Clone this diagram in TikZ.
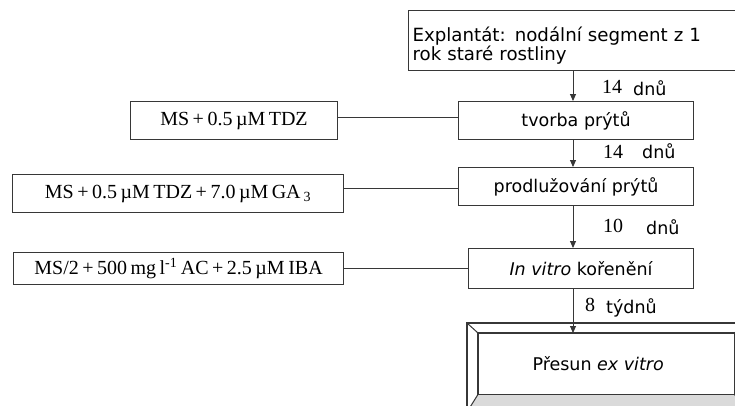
\documentclass[tikz,border=0pt]{standalone}
\usepackage{fontspec}
\setmainfont[WordSpace=0.7]{Liberation Serif}
\newfontfamily\dv{DejaVu Sans}
\usetikzlibrary{arrows.meta}
\definecolor{lc}{RGB}{55,55,55}
\definecolor{bev}{RGB}{218,218,218}
\begin{document}
\begin{tikzpicture}[x=1pt,y=-1pt,
  box/.style={draw=lc, line width=1.1pt, inner xsep=4pt, inner ysep=0pt, anchor=north west},
  sans/.style={font=\dv\fontsize{17.5}{19}\selectfont},
  sansbig/.style={font=\dv\fontsize{18.2}{19}\selectfont},
  serif/.style={font=\fontsize{20}{22}\selectfont},
  conn/.style={draw=lc, line width=0.9pt},
  arr/.style={conn, -{Triangle[length=7pt,width=6pt]}},
  lab/.style={anchor=base west, inner sep=0pt}]
\useasboundingbox (0,0) rectangle (735,405);
\clip (0,0) rectangle (735,405);
\fill[white] (0,0) rectangle (735,405);
\coordinate (ax) at (573,0);
\coordinate (l1) at (0,117);
\coordinate (l2) at (0,188);
\coordinate (l3) at (0,268);
% right column
\node[box, sansbig, minimum width=337pt, minimum height=60pt, text width=329pt, align=left] (expl) at (408,10) {\rule{0pt}{24pt}Explantát: nodální segment z 1\\rok staré rostliny};
\node[box, sans, minimum width=235pt, minimum height=38pt] (tvorba) at (458,101) {tvorba prýtů};
\node[box, sans, minimum width=235pt, minimum height=38pt] (prod) at (458,167) {prodlužování prýtů};
\node[box, sans, minimum width=225pt, minimum height=40pt] (inv) at (468,248) {\textit{In vitro} kořenění};
% bevel box
\coordinate (o1) at (467,323);
\coordinate (o2) at (747,412);
\node[anchor=north west, inner sep=0pt, minimum width=256pt, minimum height=61pt] (pres) at (478,333) {};
\fill[bev] (o1 |- o2) -- (pres.south west) -- (pres.south east) -- (o2) -- cycle;
\draw[lc, line width=1.1pt] (o1) rectangle (o2);
\draw[lc, line width=1.1pt] (pres.north west) rectangle (pres.south east);
\draw[lc, line width=1pt] (o1) -- (pres.north west)
  (o1 |- o2) -- (pres.south west)
  (o1 -| o2) -- (pres.north east) (o2) -- (pres.south east);
\node[sans, inner sep=0pt] (prestext) at ([xshift=-8pt]pres.center) {Přesun \textit{ex vitro}};
% left column
\node[box, serif, minimum width=207pt, minimum height=38pt] (ms1) at (130,101) {MS + 0.5 µM TDZ};
\node[box, serif, minimum width=331pt, minimum height=38pt] (ga) at (12,174) {MS + 0.5 µM TDZ + 7.0 µM GA\hspace{3pt}\textsubscript{3}};
\node[box, serif, minimum width=330pt, minimum height=32pt] (ms2) at (13,252) {MS/2 + 500 mg l\textsuperscript{-1} AC + 2.5 µM IBA};
% connectors
\draw[arr] (expl.south -| ax) -- (tvorba.north -| ax);
\draw[arr] (tvorba.south -| ax) -- (prod.north -| ax);
\draw[arr] (prod.south -| ax) -- (inv.north -| ax);
\draw[arr] (inv.south -| ax) -- (pres.north -| ax);
\draw[conn] (ms1.east |- l1) -- (tvorba.west |- l1);
\draw[conn] (ga.east |- l2) -- (prod.west |- l2);
\draw[conn] (ms2.east |- l3) -- (inv.west |- l3);
% labels
\node[lab, serif] (d1n) at (602,93) {14};
\node[lab, sans] (d1u) at (633,95) {dnů};
\node[lab, serif] (d2n) at (603,158) {14};
\node[lab, sans] (d2u) at (642,158) {dnů};
\node[lab, serif] (d3n) at (603,232) {10};
\node[lab, sans] (d3u) at (646,234) {dnů};
\node[lab, serif] (d4n) at (585,311) {8};
\node[lab, sans] (d4u) at (606,313) {týdnů};
\end{tikzpicture}
\end{document}
